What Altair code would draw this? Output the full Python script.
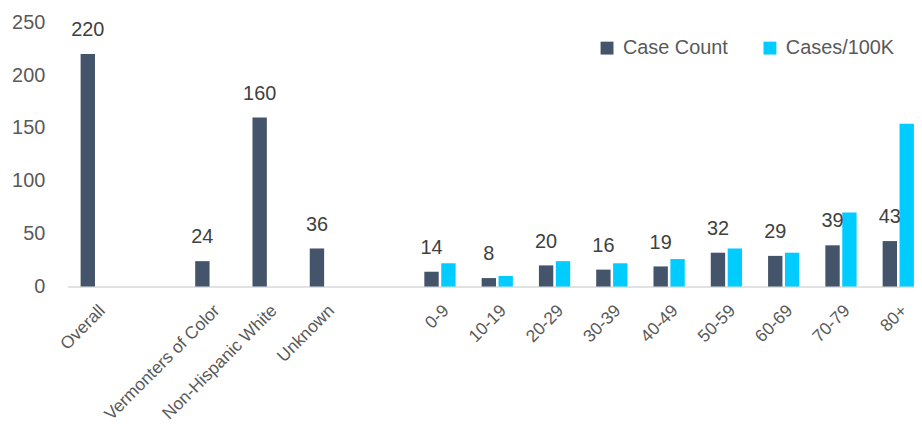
import altair as alt
import pandas as pd

categories = ["Overall", " ", "Vermonters of Color", "Non-Hispanic White", "Unknown", "  ",
              "0-9", "10-19", "20-29", "30-39", "40-49", "50-59", "60-69", "70-79", "80+"]
case_count = [220, None, 24, 160, 36, None, 14, 8, 20, 16, 19, 32, 29, 39, 43]
cases_per_100k = [None, None, None, None, None, None, 22, 10, 24, 22, 26, 36, 32, 70, 154]
series = ["Case Count", "Cases/100K"]
colors = ["#44546A", "#00CCFF"]
y_ticks = [0, 50, 100, 150, 200, 250]

rows = []
for c, v1, v2 in zip(categories, case_count, cases_per_100k):
    if v1 is not None:
        rows.append({"category": c, "series": series[0], "value": v1})
    if v2 is not None:
        rows.append({"category": c, "series": series[1], "value": v2})
df = pd.DataFrame(rows)

FONT = "Liberation Sans"

x = alt.X("category:N", sort=categories,
          scale=alt.Scale(domain=categories, range=[0, 865], paddingInner=0.41, paddingOuter=0.205),
          axis=alt.Axis(title=None, labelAngle=-45, labelFontSize=17.5, labelColor="#595959",
                        labelPadding=15, ticks=False, domainColor="#D9D9D9", domainWidth=1.5,
                        labelFont=FONT))
xo = alt.XOffset("series:N", sort=series,
                 scale=alt.Scale(domain=series, paddingInner=0.15, paddingOuter=0.075))
y = alt.Y("value:Q", scale=alt.Scale(domain=[0, 250], nice=False),
          axis=alt.Axis(title=None, values=y_ticks, domain=False, ticks=False, grid=False,
                        labelFontSize=20, labelColor="#595959", labelPadding=23, labelFont=FONT))

bars = alt.Chart().mark_bar().encode(
    x=x, xOffset=xo, y=y,
    color=alt.Color("series:N", sort=series,
                    scale=alt.Scale(domain=series, range=colors),
                    legend=alt.Legend(title=None, orient="none", legendX=533, legendY=16,
                                      direction="horizontal", symbolType="square", symbolSize=169,
                                      symbolStrokeWidth=0, labelFontSize=20, labelColor="#595959",
                                      labelFont=FONT, columnPadding=32, labelOffset=6)),
)

text = alt.Chart().transform_filter(
    alt.datum.series == "Case Count"
).mark_text(baseline="alphabetic", dy=-18, fontSize=20, color="#404040", font=FONT).encode(
    x=x, xOffset=xo, y=y, text=alt.Text("value:Q")
)

chart = alt.layer(bars, text, data=df).properties(
    width=852, height=266,
    autosize=alt.AutoSizeParams(type="none"),
    padding={"left": 60, "top": 13, "right": 0, "bottom": 136},
).configure(font=FONT, background="white").configure_view(stroke=None)

chart.save("out.html", embed_options={"renderer": "svg", "actions": False})
